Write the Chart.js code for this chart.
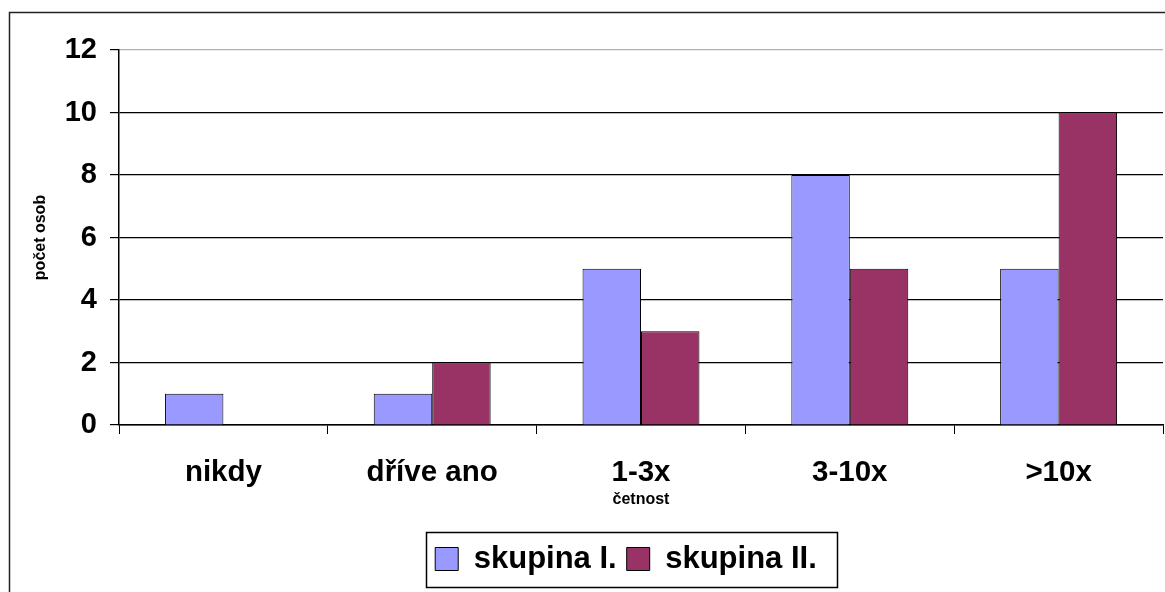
<!DOCTYPE html>
<html>
<head>
<meta charset="utf-8">
<script src="https://cdn.jsdelivr.net/npm/chart.js@4/dist/chart.umd.min.js"></script>
<style>
  html, body { margin: 0; padding: 0; background: #fff; }
  #wrap { width: 1165px; height: 592px; position: relative; }
</style>
</head>
<body>
<div id="wrap"><canvas id="c"></canvas></div>
<script>
const categories = ['nikdy', 'dříve ano', '1-3x', '3-10x', '>10x'];
const skupina1 = [1, 1, 5, 8, 5];
const skupina2 = [0, 2, 3, 5, 10];
const seriesNames = ['skupina I.', 'skupina II.'];
const yMax = 12;
const yStep = 2;

const FONT = "'Liberation Sans', Arial, sans-serif";

// outer frame + box around the legend
const framePlugin = {
    id: 'frame',
    afterLayout(chart) {
        // legend sits a bit left of the plot centre in the original
        const lg = chart.legend;
        const want = 626;
        const shift = want - (lg.left + lg.right) / 2;
        lg.left += shift;
        lg.right += shift;
    },
    afterDraw(chart) {
        const ctx = chart.ctx;
        ctx.save();
        ctx.strokeStyle = '#222';
        ctx.lineWidth = 1.5;
        ctx.beginPath();
        ctx.moveTo(9.5, 592);
        ctx.lineTo(9.5, 12.5);
        ctx.lineTo(1165, 12.5);
        ctx.stroke();

        const hb = chart.legend.legendHitBoxes;
        if (hb && hb.length) {
            const first = hb[0], last = hb[hb.length - 1];
            const x0 = first.left - 9;
            const x1 = last.left + last.width + 20;
            const y0 = first.top - 11.5;
            const y1 = first.top + first.height + 12.5;
            ctx.lineWidth = 1.5;
            ctx.strokeStyle = '#000';
            ctx.strokeRect(Math.round(x0) + 0.5, Math.round(y0) + 0.5, Math.round(x1 - x0), Math.round(y1 - y0));
        }
        ctx.restore();
    }
};

new Chart(document.getElementById('c'), {
    type: 'bar',
    data: {
        labels: categories,
        datasets: [
            {
                label: seriesNames[0],
                data: skupina1,
                backgroundColor: '#9999FF',
                borderColor: '#000',
                borderWidth: 1
            },
            {
                label: seriesNames[1],
                data: skupina2,
                backgroundColor: '#993366',
                borderColor: '#000',
                borderWidth: 1
            }
        ]
    },
    options: {
        responsive: true,
        maintainAspectRatio: false,
        devicePixelRatio: 1,
        animation: false,
        layout: { padding: { top: 50, right: 2, bottom: 7.5, left: 0 } },
        datasets: {
            bar: { categoryPercentage: 0.56, barPercentage: 1 }
        },
        scales: {
            x: {
                grid: {
                    display: true,
                    drawOnChartArea: false,
                    drawTicks: true,
                    tickLength: 9,
                    tickColor: '#000',
                    offset: true
                },
                border: { display: true, color: '#000', width: 1.5 },
                ticks: {
                    color: '#000',
                    padding: 21,
                    maxRotation: 0,
                    font: { family: FONT, size: 29.5, weight: 'bold' }
                },
                title: {
                    display: true,
                    text: 'četnost',
                    color: '#000',
                    padding: { top: 0, bottom: 24 },
                    font: { family: FONT, size: 16, weight: 'bold' }
                },
                afterFit(scale) { scale.height = 108.5; }
            },
            y: {
                min: 0,
                max: yMax,
                grid: {
                    color: ctx => (ctx.tick && ctx.tick.value === yMax) ? '#b0b0b0' : '#000',
                    lineWidth: 1.2,
                    tickColor: '#000',
                    tickLength: 9
                },
                border: { display: true, color: '#000', width: 1.5 },
                ticks: {
                    stepSize: yStep,
                    color: '#000',
                    padding: 13,
                    font: { family: FONT, size: 29, weight: 'bold' }
                },
                title: {
                    display: true,
                    text: 'počet osob',
                    color: '#000',
                    padding: { top: 31, bottom: 0 },
                    font: { family: FONT, size: 16, weight: 'bold' }
                },
                afterFit(scale) { scale.width = 119; }
            }
        },
        plugins: {
            legend: {
                position: 'bottom',
                labels: {
                    color: '#000',
                    boxWidth: 23,
                    boxHeight: 23,
                    padding: 10,
                    font: { family: FONT, size: 31, weight: 'bold' }
                }
            },
            tooltip: { enabled: false }
        }
    },
    plugins: [framePlugin]
});
</script>
</body>
</html>
